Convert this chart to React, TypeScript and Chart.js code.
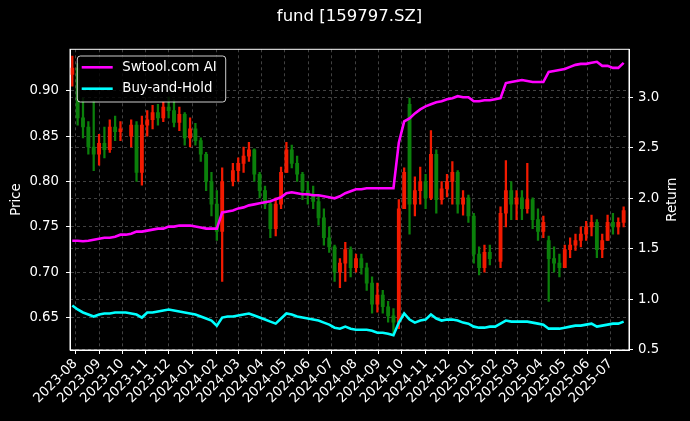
import React, { useEffect, useRef } from 'react';
import { Chart, registerables } from 'chart.js';

Chart.register(...registerables);

const TITLE = 'fund [159797.SZ]';
const Y_LEFT_TITLE = 'Price';
const Y_RIGHT_TITLE = 'Return';
const SERIES_AI = 'Swtool.com AI';
const SERIES_BH = 'Buy-and-Hold';

// weekly candles, first week ending on this date, one entry per week
const FIRST_WEEK_END = '2023-07-28';
const X_MIN_DATE = '2023-07-25';
const X_MAX_DATE = '2025-07-25';

const monthTicks = [
  '2023-08', '2023-09', '2023-10', '2023-11', '2023-12', '2024-01', '2024-02', '2024-03',
  '2024-04', '2024-05', '2024-06', '2024-07', '2024-08', '2024-09', '2024-10', '2024-11',
  '2024-12', '2025-01', '2025-02', '2025-03', '2025-04', '2025-05', '2025-06', '2025-07',
];
const priceTicks = [0.65, 0.7, 0.75, 0.8, 0.85, 0.9];
const returnTicks = [0.5, 1.0, 1.5, 2.0, 2.5, 3.0];

const openP = [
  0.918, 0.925, 0.870, 0.860, 0.838, 0.830, 0.842, 0.835, 0.860, 0.855,
  null, 0.850, 0.862, 0.810, 0.862, 0.868, 0.876, 0.870, 0.882, 0.878,
  0.865, 0.874, 0.848, 0.858, 0.845, 0.830, 0.800, 0.775, 0.745, null,
  0.800, 0.812, 0.820, 0.828, 0.835, 0.808, 0.790, 0.775, 0.748, 0.775,
  0.810, 0.835, 0.820, 0.808, 0.790, 0.785, 0.778, 0.760, 0.738, 0.728,
  0.700, 0.710, 0.725, 0.705, 0.715, 0.705, 0.688, 0.665, 0.675, 0.662,
  0.652, 0.645, 0.770, 0.885, 0.775, 0.790, 0.800, 0.782, 0.830, 0.780,
  0.792, 0.800, 0.810, 0.775, 0.782, 0.762, 0.720, 0.705, 0.722, null,
  0.712, 0.765, 0.790, 0.775, 0.782, 0.770, 0.780, 0.758, 0.745, 0.735,
  0.715, 0.710, 0.705, 0.725, 0.730, 0.735, 0.742, 0.750, 0.755, 0.725,
  0.735, 0.755, 0.750, 0.755,
];
const highP = [
  0.938, 0.930, 0.892, 0.866, 0.889, 0.852, 0.860, 0.868, 0.872, 0.866,
  null, 0.868, 0.866, 0.872, 0.878, 0.884, 0.885, 0.888, 0.893, 0.890,
  0.882, 0.876, 0.870, 0.864, 0.848, 0.832, 0.810, 0.790, 0.815, null,
  0.820, 0.826, 0.838, 0.843, 0.836, 0.810, 0.795, 0.778, 0.782, 0.816,
  0.843, 0.840, 0.828, 0.810, 0.800, 0.795, 0.785, 0.770, 0.750, 0.730,
  0.715, 0.733, 0.728, 0.720, 0.720, 0.710, 0.695, 0.688, 0.680, 0.668,
  0.660, 0.780, 0.815, 0.892, 0.805, 0.816, 0.808, 0.856, 0.835, 0.800,
  0.808, 0.822, 0.812, 0.790, 0.785, 0.765, 0.728, 0.730, 0.730, null,
  0.772, 0.823, 0.800, 0.790, 0.790, 0.820, 0.782, 0.770, 0.762, 0.740,
  0.728, 0.720, 0.730, 0.738, 0.742, 0.750, 0.756, 0.763, 0.758, 0.742,
  0.763, 0.765, 0.760, 0.772,
];
const lowP = [
  0.905, 0.862, 0.848, 0.830, 0.812, 0.818, 0.826, 0.832, 0.845, 0.845,
  null, 0.838, 0.800, 0.796, 0.850, 0.858, 0.862, 0.866, 0.870, 0.860,
  0.856, 0.840, 0.838, 0.840, 0.822, 0.790, 0.762, 0.735, 0.690, null,
  0.795, 0.800, 0.810, 0.822, 0.800, 0.782, 0.770, 0.738, 0.740, 0.770,
  0.810, 0.815, 0.800, 0.780, 0.775, 0.770, 0.752, 0.730, 0.722, 0.690,
  0.683, 0.690, 0.695, 0.700, 0.698, 0.680, 0.655, 0.656, 0.655, 0.645,
  0.632, 0.638, 0.770, 0.742, 0.762, 0.775, 0.770, 0.780, 0.765, 0.775,
  0.783, 0.775, 0.765, 0.763, 0.755, 0.710, 0.697, 0.700, 0.708, null,
  0.705, 0.750, 0.758, 0.758, 0.758, 0.765, 0.748, 0.735, 0.738, 0.668,
  0.700, 0.695, 0.705, 0.716, 0.724, 0.728, 0.735, 0.740, 0.716, 0.716,
  0.735, 0.742, 0.742, 0.750,
];
const closeP = [
  0.925, 0.870, 0.860, 0.838, 0.830, 0.842, 0.835, 0.860, 0.855, 0.858,
  null, 0.862, 0.810, 0.862, 0.868, 0.876, 0.870, 0.882, 0.878, 0.865,
  0.874, 0.848, 0.858, 0.845, 0.830, 0.800, 0.775, 0.745, 0.800, null,
  0.812, 0.820, 0.828, 0.835, 0.808, 0.790, 0.775, 0.748, 0.775, 0.810,
  0.835, 0.820, 0.808, 0.790, 0.785, 0.778, 0.760, 0.738, 0.728, 0.700,
  0.710, 0.725, 0.705, 0.715, 0.705, 0.688, 0.665, 0.675, 0.662, 0.652,
  0.645, 0.770, 0.810, 0.775, 0.790, 0.800, 0.782, 0.830, 0.780, 0.792,
  0.800, 0.810, 0.775, 0.782, 0.762, 0.720, 0.705, 0.722, 0.715, null,
  0.765, 0.790, 0.775, 0.782, 0.770, 0.780, 0.758, 0.745, 0.755, 0.715,
  0.710, 0.705, 0.725, 0.730, 0.735, 0.742, 0.750, 0.755, 0.725, 0.735,
  0.755, 0.750, 0.755, 0.768,
];

const aiReturn = [
  1.58, 1.58, 1.575, 1.58, 1.59, 1.60, 1.61, 1.61, 1.62, 1.64,
  1.64, 1.65, 1.67, 1.67, 1.68, 1.69, 1.70, 1.70, 1.72, 1.72,
  1.73, 1.73, 1.73, 1.72, 1.71, 1.70, 1.70, 1.70, 1.86, 1.87,
  1.88, 1.90, 1.91, 1.93, 1.94, 1.95, 1.96, 1.97, 1.99, 2.01,
  2.05, 2.06, 2.05, 2.04, 2.04, 2.03, 2.03, 2.02, 2.01, 2.00,
  2.02, 2.05, 2.07, 2.09, 2.09, 2.10, 2.10, 2.10, 2.10, 2.10,
  2.10, 2.55, 2.76, 2.79, 2.84, 2.88, 2.91, 2.93, 2.95, 2.96,
  2.98, 2.99, 3.01, 3.00, 3.00, 2.96, 2.96, 2.97, 2.97, 2.98,
  2.99, 3.14, 3.15, 3.16, 3.17, 3.16, 3.15, 3.15, 3.15, 3.25,
  3.26, 3.27, 3.28, 3.30, 3.32, 3.33, 3.33, 3.34, 3.35, 3.31,
  3.31, 3.29, 3.29, 3.34,
];
const bhReturn = [
  0.94, 0.90, 0.87, 0.85, 0.83, 0.85, 0.86, 0.86, 0.87, 0.87,
  0.87, 0.86, 0.85, 0.82, 0.87, 0.87, 0.88, 0.89, 0.90, 0.89,
  0.88, 0.87, 0.86, 0.85, 0.83, 0.81, 0.79, 0.74, 0.82, 0.83,
  0.83, 0.84, 0.85, 0.86, 0.84, 0.82, 0.80, 0.78, 0.76, 0.81,
  0.86, 0.85, 0.83, 0.82, 0.81, 0.80, 0.79, 0.77, 0.75, 0.72,
  0.71, 0.73, 0.71, 0.70, 0.70, 0.70, 0.69, 0.67, 0.67, 0.66,
  0.645, 0.77, 0.86, 0.80, 0.77, 0.79, 0.80, 0.85, 0.81, 0.79,
  0.80, 0.80, 0.79, 0.77, 0.76, 0.73, 0.72, 0.72, 0.73, 0.73,
  0.76, 0.79, 0.78, 0.78, 0.78, 0.78, 0.77, 0.76, 0.75, 0.71,
  0.71, 0.71, 0.72, 0.73, 0.74, 0.74, 0.75, 0.76, 0.73, 0.74,
  0.75, 0.76, 0.76, 0.78,
];

const UP_COLOR = '#f21a00';
const DOWN_COLOR = '#0b800b';
const AI_COLOR = '#ff00ff';
const BH_COLOR = '#00ffff';
const GRID_COLOR = 'rgba(150,150,150,0.55)';
const FONT_FAMILY = '"DejaVu Sans", Verdana, sans-serif';

const dayOf = (s: string) => {
  const [y, m, d] = s.split('-').map(Number);
  return Date.UTC(y, m - 1, d || 1) / 86400000;
};

export default function App() {
  const canvasRef = useRef<HTMLCanvasElement | null>(null);

  useEffect(() => {
    document.body.style.margin = '0';
    document.body.style.background = '#000';
    const canvas = canvasRef.current;
    if (!canvas) return;

    const firstDay = dayOf(FIRST_WEEK_END);
    const weekX = closeP.map((_, i) => firstDay + 7 * i);
    const idx = closeP.map((c, i) => i).filter((i) => closeP[i] != null);
    const isUp = (i: number) => (closeP[i] as number) >= (openP[i] as number);
    const candleColors = idx.map((i) => (isUp(i) ? UP_COLOR : DOWN_COLOR));

    const tickFont = { family: FONT_FAMILY, size: 13.3 };

    const gridCommon = {
      color: GRID_COLOR,
      lineWidth: 0.8,
      drawTicks: true,
      tickLength: 4,
      tickColor: '#ffffff',
      tickWidth: 1,
      tickBorderDash: [],
      offset: false,
    };
    const borderCommon = { display: true, color: '#ffffff', width: 1, dash: [3, 3] };

    const bgPlugin = {
      id: 'bg',
      beforeDraw(chart: any) {
        const { ctx, width, height } = chart;
        ctx.save();
        ctx.fillStyle = '#000000';
        ctx.fillRect(0, 0, width, height);
        ctx.restore();
      },
    };

    const decorPlugin = {
      id: 'decor',
      afterDraw(chart: any) {
        const { ctx, chartArea } = chart;
        const { left, right, top, bottom } = chartArea;
        ctx.save();
        // frame
        ctx.strokeStyle = '#ffffff';
        ctx.lineWidth = 1;
        ctx.setLineDash([]);
        ctx.strokeRect(left, top, right - left, bottom - top);
        // title
        ctx.fillStyle = '#ffffff';
        ctx.font = `16.5px ${FONT_FAMILY}`;
        ctx.textAlign = 'center';
        ctx.textBaseline = 'middle';
        ctx.fillText(TITLE, (left + right) / 2, 16.5);
        // right axis title (reads bottom-to-top)
        ctx.save();
        ctx.translate(672.5, (top + bottom) / 2);
        ctx.rotate(-Math.PI / 2);
        ctx.font = `13.3px ${FONT_FAMILY}`;
        ctx.fillText(Y_RIGHT_TITLE, 0, 0);
        ctx.restore();
        // legend
        const lx = left + 7.3;
        const ly = top + 6.7;
        const lw = 148.4;
        const lh = 46;
        ctx.beginPath();
        (ctx as any).roundRect(lx, ly, lw, lh, 3);
        ctx.fillStyle = 'rgba(0,0,0,0.8)';
        ctx.fill();
        ctx.strokeStyle = 'rgba(255,255,255,0.8)';
        ctx.lineWidth = 1;
        ctx.stroke();
        const items = chart.data.datasets.filter((d: any) => d.type === 'line');
        items.forEach((d: any, k: number) => {
          const yy = ly + 11.3 + k * 21.4;
          ctx.beginPath();
          ctx.strokeStyle = d.borderColor;
          ctx.lineWidth = 2.6;
          ctx.moveTo(lx + 4.4, yy);
          ctx.lineTo(lx + 35.4, yy);
          ctx.stroke();
          ctx.fillStyle = '#ffffff';
          ctx.font = `13.3px ${FONT_FAMILY}`;
          ctx.textAlign = 'left';
          ctx.textBaseline = 'middle';
          ctx.fillText(d.label, lx + 45, yy);
        });
        ctx.restore();
      },
    };

    const chart = new Chart(canvas, {
      type: 'bar',
      data: {
        datasets: [
          {
            type: 'line',
            label: SERIES_AI,
            data: weekX.map((x, i) => ({ x, y: aiReturn[i] })),
            borderColor: AI_COLOR,
            backgroundColor: AI_COLOR,
            borderWidth: 2.6,
            pointRadius: 0,
            tension: 0,
            yAxisID: 'yR',
            order: 0,
          } as any,
          {
            type: 'line',
            label: SERIES_BH,
            data: weekX.map((x, i) => ({ x, y: bhReturn[i] })),
            borderColor: BH_COLOR,
            backgroundColor: BH_COLOR,
            borderWidth: 2.6,
            pointRadius: 0,
            tension: 0,
            yAxisID: 'yR',
            order: 0,
          } as any,
          {
            type: 'bar',
            label: 'body',
            data: idx.map((i) => ({ x: weekX[i], y: [openP[i], closeP[i] === openP[i] ? (closeP[i] as number) + 0.001 : closeP[i]] })),
            backgroundColor: candleColors,
            borderWidth: 0,
            barThickness: 3.2,
            grouped: false,
            yAxisID: 'y',
            order: 2,
          } as any,
          {
            type: 'bar',
            label: 'wick',
            data: idx.map((i) => ({ x: weekX[i], y: [lowP[i], highP[i]] })),
            backgroundColor: candleColors,
            borderWidth: 0,
            barThickness: 1.6,
            grouped: false,
            yAxisID: 'y',
            order: 3,
          } as any,
        ],
      },
      options: {
        animation: false,
        responsive: false,
        devicePixelRatio: 1,
        layout: { padding: { top: 49.3, left: 0, right: 0, bottom: 0 } },
        plugins: {
          legend: { display: false },
          title: { display: false },
          tooltip: { enabled: false },
        },
        scales: {
          x: {
            type: 'linear',
            min: dayOf(X_MIN_DATE),
            max: dayOf(X_MAX_DATE),
            offset: false,
            grid: gridCommon,
            border: borderCommon,
            ticks: {
              color: '#ffffff',
              font: tickFont,
              autoSkip: false,
              maxRotation: 45,
              minRotation: 45,
              padding: 2,
              callback: (_v: any, i: number) => monthTicks[i],
            },
            afterBuildTicks: (s: any) => {
              s.ticks = monthTicks.map((m) => ({ value: dayOf(m) }));
            },
            afterFit: (s: any) => {
              s.height = 71;
            },
          } as any,
          y: {
            type: 'linear',
            position: 'left',
            min: 0.6144,
            max: 0.9456,
            grid: gridCommon,
            border: borderCommon,
            ticks: {
              color: '#ffffff',
              font: tickFont,
              padding: 7,
              callback: (v: any) => Number(v).toFixed(2),
            },
            title: {
              display: true,
              text: Y_LEFT_TITLE,
              color: '#ffffff',
              font: tickFont,
              padding: { top: 9, bottom: 0 },
            },
            afterBuildTicks: (s: any) => {
              s.ticks = priceTicks.map((v) => ({ value: v }));
            },
            afterFit: (s: any) => {
              s.width = 70;
            },
          } as any,
          yR: {
            type: 'linear',
            position: 'right',
            min: 0.499,
            max: 3.474,
            grid: gridCommon,
            border: borderCommon,
            ticks: {
              color: '#ffffff',
              font: tickFont,
              padding: 5,
              callback: (v: any) => Number(v).toFixed(1),
            },
            afterBuildTicks: (s: any) => {
              s.ticks = returnTicks.map((v) => ({ value: v }));
            },
            afterFit: (s: any) => {
              s.width = 61;
            },
          } as any,
        },
      } as any,
      plugins: [bgPlugin, decorPlugin],
    });

    return () => chart.destroy();
  }, []);

  return (
    <div style={{ width: 690, height: 421, background: '#000' }}>
      <canvas ref={canvasRef} width={690} height={421} style={{ display: 'block' }} />
    </div>
  );
}
